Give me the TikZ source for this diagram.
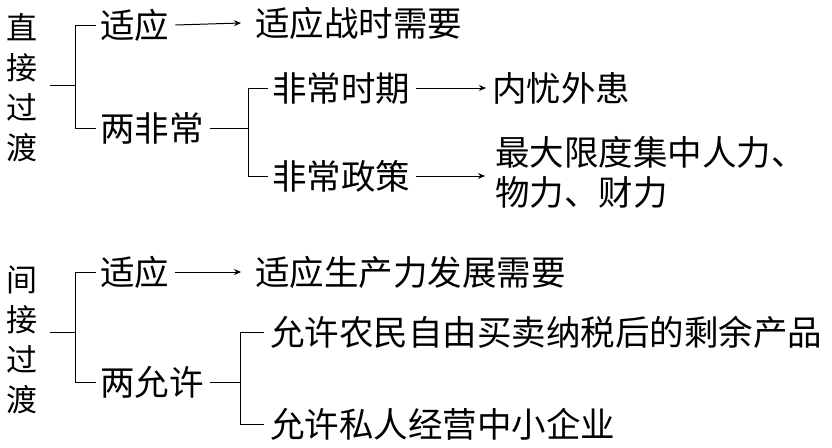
\documentclass[tikz,border=0pt]{standalone}
\usepackage{fontspec}
\setmainfont{Noto Sans CJK SC}
\usetikzlibrary{arrows.meta}
\begin{document}
\begin{tikzpicture}[x=1pt,y=-1pt,
  t/.style={anchor=west,inner sep=0pt,font=\fontsize{34.5}{40}\selectfont},
  v/.style={inner sep=0pt,font=\fontsize{31}{40}\selectfont,align=center},
  ln/.style={line width=1pt},
  ar/.style={line width=1pt,-{Stealth[length=7pt,width=6pt]}}]
\useasboundingbox (0,0) rectangle (832,447);
% top
\node[v] (A) at (22,88) {直\\接\\过\\渡};
\node[t] (a1) at (100,25) {适应};
\node[t] (a2) at (255,23) {适应战时需要};
\node[t] (b1) at (100,128) {两非常};
\node[t] (c1) at (272,88) {非常时期};
\node[t] (c2) at (492,88) {内忧外患};
\node[t] (d1) at (272,176) {非常政策};
\node[t,align=left] (d2) at (495,172) {最大限度集中人力、\\物力、财力};
\coordinate (s1) at (50,85);
\draw[ln] (s1) -- (75,85);
\draw[ln] (a1.west) ++(-4,0) -| (75,128) -- ([xshift=-4pt]b1.west);
\draw[ar] (a1.east) ++(6,0) -- ([xshift=-14pt]a2.west);
\draw[ln] (b1.east) ++(6,0) -- (248,128);
\draw[ln] (c1.west) ++(-4,0) -| (248,176) -- ([xshift=-4pt]d1.west);
\draw[ar] (c1.east) ++(6,0) -- ([xshift=-6pt]c2.west);
\draw[ar] (d1.east) ++(6,0) -- ([xshift=-10pt]d2.west|-d1.east);
% bottom
\node[v] (B) at (22,340) {间\\接\\过\\渡};
\node[t] (e1) at (100,272) {适应};
\node[t] (e2) at (255,272) {适应生产力发展需要};
\node[t] (f1) at (100,382) {两允许};
\node[t] (g1) at (270,332) {允许农民自由买卖纳税后的剩余产品};
\node[t] (g2) at (270,424) {允许私人经营中小企业};
\coordinate (s2) at (50,332);
\draw[ln] (s2) -- (75,332);
\draw[ln] (e1.west) ++(-4,0) -| (75,382) -- ([xshift=-4pt]f1.west);
\draw[ar] (e1.east) ++(6,0) -- ([xshift=-14pt]e2.west);
\draw[ln] (f1.east) ++(6,0) -- (240,382);
\draw[ln] (g1.west) ++(-6,0) -| (240,424) -- ([xshift=-6pt]g2.west);
\end{tikzpicture}
\end{document}
